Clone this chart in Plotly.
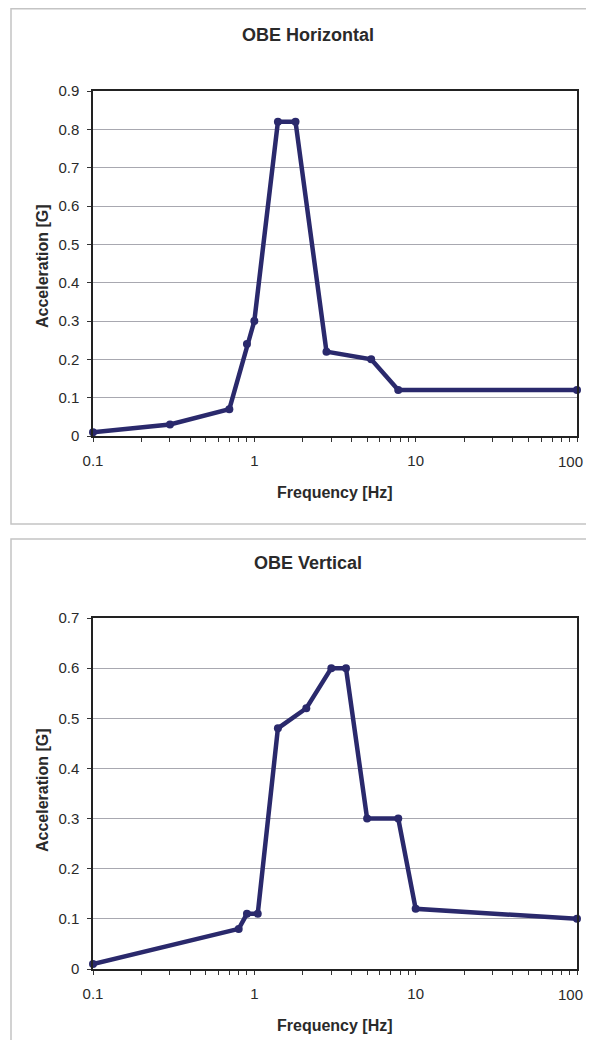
import plotly.graph_objects as go

# ---- data ----
h_freq = [0.1, 0.3, 0.7, 0.9, 1.0, 1.4, 1.8, 2.8, 5.3, 7.8, 100]
h_acc = [0.01, 0.03, 0.07, 0.24, 0.30, 0.82, 0.82, 0.22, 0.20, 0.12, 0.12]

v_freq = [0.1, 0.8, 0.9, 1.05, 1.4, 2.1, 3.0, 3.7, 5.0, 7.8, 10, 100]
v_acc = [0.01, 0.08, 0.11, 0.11, 0.48, 0.52, 0.60, 0.60, 0.30, 0.30, 0.12, 0.10]

x_major = [0.1, 1, 10, 100]
x_major_labels = ["0.1", "1", "10", "100"]
x_minor = [0.2, 0.3, 0.4, 0.5, 0.6, 0.7, 0.8, 0.9,
           2, 3, 4, 5, 6, 7, 8, 9,
           20, 30, 40, 50, 60, 70, 80, 90]
h_yticks = [0, 0.1, 0.2, 0.3, 0.4, 0.5, 0.6, 0.7, 0.8, 0.9]
h_ylabels = ["0", "0.1", "0.2", "0.3", "0.4", "0.5", "0.6", "0.7", "0.8", "0.9"]
v_yticks = [0, 0.1, 0.2, 0.3, 0.4, 0.5, 0.6, 0.7]
v_ylabels = ["0", "0.1", "0.2", "0.3", "0.4", "0.5", "0.6", "0.7"]

titles = ["OBE Horizontal", "OBE Vertical"]
xtitle = "Frequency [Hz]"
ytitle = "Acceleration [G]"

# page is 594x1048; the default 8px body margin surrounds the figure
OFF = 8
W, H = 594 - 2 * OFF, 1048 - 2 * OFF
LINE = "#2a296c"
FONT = "Liberation Sans, Arial, sans-serif"
TXT = "#2a2a2a"


def px(x):
    return (x - OFF) / W


def py(y):
    return 1 - (y - OFF) / H


fig = go.Figure()

fig.add_trace(go.Scatter(x=h_freq, y=h_acc, mode="lines+markers",
                         line=dict(color=LINE, width=4.5),
                         marker=dict(color=LINE, size=8),
                         cliponaxis=False, xaxis="x", yaxis="y",
                         showlegend=False))
fig.add_trace(go.Scatter(x=v_freq, y=v_acc, mode="lines+markers",
                         line=dict(color=LINE, width=4.5),
                         marker=dict(color=LINE, size=8),
                         cliponaxis=False, xaxis="x2", yaxis="y2",
                         showlegend=False))

panels = [
    dict(x0=93, x1=577, y0=91, y1=436, yr=[0, 0.9], yt=h_yticks, yl=h_ylabels,
         lab_y=461),
    dict(x0=93, x1=577, y0=618, y1=969, yr=[0, 0.7], yt=v_yticks, yl=v_ylabels,
         lab_y=994),
]

layout = dict(
    width=W, height=H,
    margin=dict(l=0, r=0, t=0, b=0),
    paper_bgcolor="white", plot_bgcolor="white",
    font=dict(family=FONT, size=15, color=TXT),
    annotations=[], shapes=[],
)

for i, p in enumerate(panels):
    n = "" if i == 0 else "2"
    ov = "3" if i == 0 else "4"
    xdom = [px(p["x0"]), px(p["x1"])]
    ydom = [py(p["y1"]), py(p["y0"])]
    # the last label ("100") is placed separately so it stays inside the page
    layout["xaxis" + n] = dict(
        type="log", range=[-1, 2], domain=xdom, anchor="y" + n,
        tickvals=x_major, ticktext=x_major_labels[:-1] + [""],
        ticks="outside", ticklen=4, tickcolor="#333", tickwidth=1,
        minor=dict(tickvals=x_minor, ticks="outside", ticklen=4,
                   tickcolor="#333", tickwidth=1, showgrid=False),
        showgrid=False, zeroline=False, automargin=False,
        showline=True, linecolor="#222", linewidth=1.5, mirror=True,
        ticklabelstandoff=6,
        tickfont=dict(size=15, family=FONT, color=TXT),
    )
    layout["annotations"].append(dict(
        text=x_major_labels[-1], xref="paper", yref="paper",
        x=px(585), y=py(p["lab_y"]), xanchor="right", yanchor="middle",
        showarrow=False, font=dict(size=15, family=FONT, color=TXT)))
    layout["yaxis" + n] = dict(
        range=p["yr"], domain=ydom, anchor="x" + n,
        tickvals=p["yt"], ticktext=p["yl"], automargin=False,
        ticks="outside", ticklen=4, tickcolor="#333", tickwidth=1,
        showgrid=True, gridcolor="#a8a8b0", gridwidth=1,
        zeroline=False, showline=True, linecolor="#222", linewidth=1.5,
        mirror=True, ticklabelstandoff=5,
        tickfont=dict(size=15, family=FONT, color=TXT),
    )
    # overlay axis for inner half of the crossing ticks
    layout["xaxis" + ov] = dict(
        type="log", range=[-1, 2], domain=xdom, anchor="y" + n,
        overlaying="x" + n, tickvals=x_major, ticks="inside", ticklen=4,
        tickcolor="#333", showticklabels=False, showgrid=False,
        zeroline=False, showline=False, automargin=False,
        minor=dict(tickvals=x_minor, ticks="inside", ticklen=4,
                   tickcolor="#333", showgrid=False),
    )
    # panel box
    top = 8.8 if i == 0 else 539
    bot = 524 if i == 0 else 1070
    layout["shapes"].append(dict(
        type="rect", xref="paper", yref="paper",
        x0=px(11), x1=px(620), y0=py(bot), y1=py(top),
        line=dict(color="#c4c4c4", width=1.5), layer="below"))
    # chart title
    ty = 35 if i == 0 else 563
    layout["annotations"].append(dict(
        text="<b>%s</b>" % titles[i], xref="paper", yref="paper",
        x=px(308), y=py(ty), xanchor="center", yanchor="middle",
        showarrow=False, font=dict(size=18, family=FONT, color=TXT)))
    # x title
    xy = 493 if i == 0 else 1025
    layout["annotations"].append(dict(
        text="<b>%s</b>" % xtitle, xref="paper", yref="paper",
        x=px(335), y=py(xy), xanchor="center", yanchor="middle",
        showarrow=False, font=dict(size=16, family=FONT, color=TXT)))
    # y title
    yy = 266 if i == 0 else 790
    layout["annotations"].append(dict(
        text="<b>%s</b>" % ytitle, xref="paper", yref="paper",
        x=px(42), y=py(yy), xanchor="center", yanchor="middle",
        showarrow=False, textangle=-90,
        font=dict(size=16, family=FONT, color=TXT)))

fig.update_layout(**layout)
fig.write_html("out.html", config={"displayModeBar": False})
